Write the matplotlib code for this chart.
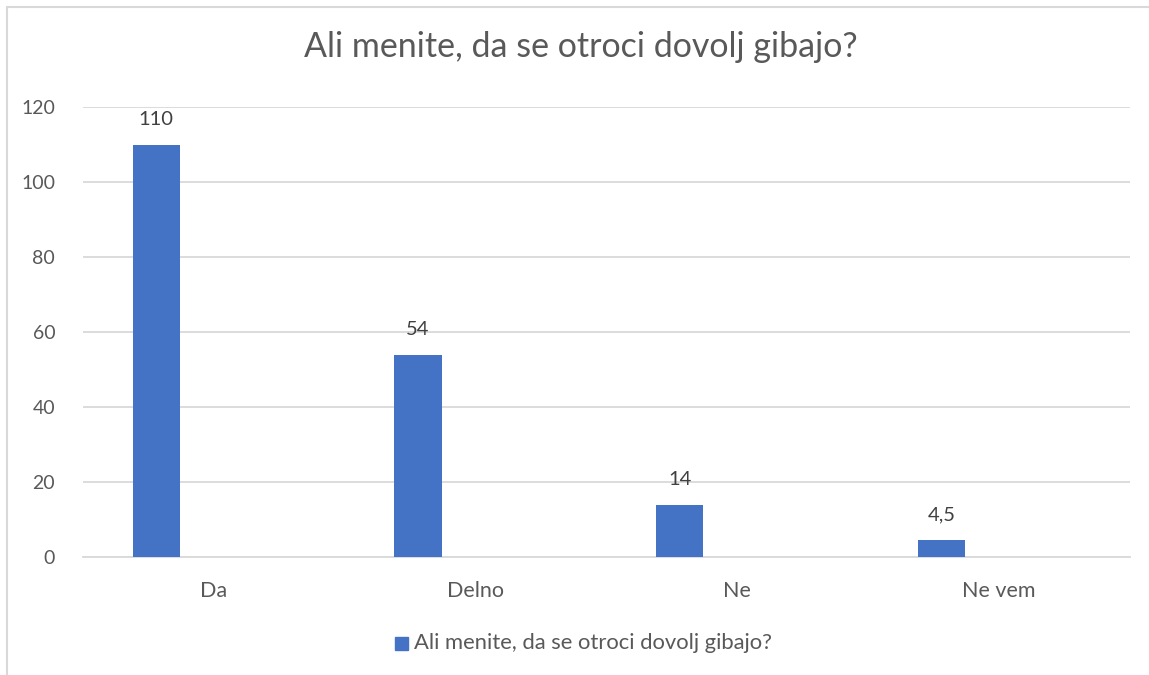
import numpy as np
import matplotlib.pyplot as plt
from matplotlib.patches import Rectangle

# Data
categories = ['Da', 'Delno', 'Ne', 'Ne vem']
values = [110, 54, 14, 4.5]
value_labels = ['110', '54', '14', '4,5']
title = 'Ali menite, da se otroci dovolj gibajo?'

bar_color = '#4472c4'
text_color = '#595959'
grid_color = '#d9d9d9'

plt.rcParams['font.family'] = ['Lato', 'DejaVu Sans']

W, H = 1149, 675
fig = plt.figure(figsize=(W / 100, H / 100), dpi=100)
fig.patch.set_facecolor('white')

# chart border (cropped on right and bottom in the reference)
fig.patches.append(Rectangle((7 / W, -0.1), 1.2, 1 - 7 / H + 0.1,
                             transform=fig.transFigure, fill=False,
                             edgecolor=grid_color, linewidth=1.5))

ax = fig.add_axes([83 / W, 1 - 557 / H, (1130 - 83) / W, (557 - 107) / H])

x = np.arange(len(categories))
bars = ax.bar(x - 0.22, values, width=0.18, color=bar_color, zorder=3)

for b, lab in zip(bars, value_labels):
    ax.annotate(lab, (b.get_x() + b.get_width() / 2, b.get_height()),
                xytext=(0, 12), textcoords='offset points',
                ha='center', va='bottom', fontsize=14.5, color='#404040')

ax.set_ylim(0, 120)
ax.set_yticks(range(0, 121, 20))
ax.set_xlim(-0.5, len(categories) - 0.5)
ax.set_xticks(x)
ax.set_xticklabels(categories)

ax.grid(axis='y', color=grid_color, linewidth=1.3, zorder=0)
for side in ['top', 'right', 'left']:
    ax.spines[side].set_visible(False)
ax.spines['bottom'].set_color(grid_color)
ax.spines['bottom'].set_linewidth(1.3)
ax.tick_params(axis='both', length=0, labelcolor=text_color)
ax.tick_params(axis='y', pad=20, labelsize=14)
ax.tick_params(axis='x', pad=17, labelsize=15.5)

fig.text(581 / W, 1 - 47 / H, title, ha='center', va='center',
         fontsize=24.5, color=text_color)

# legend
fig.patches.append(Rectangle((395 / W, 1 - 650 / H), 13 / W, 13 / H,
                             transform=fig.transFigure, color=bar_color))
fig.text(414 / W, 1 - 643 / H, title, ha='left', va='center',
         fontsize=15.8, color=text_color)

fig.savefig('out.png', dpi=100)
